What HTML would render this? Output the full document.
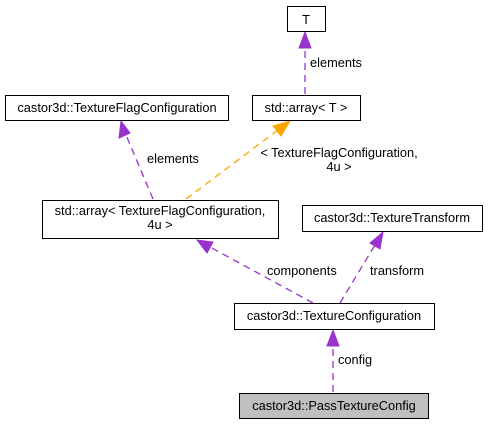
<!DOCTYPE html>
<html><head><meta charset="utf-8"><style>
html,body{margin:0;padding:0;background:#fff;}
svg{display:block;}
text{font-family:"Liberation Sans",Arial,sans-serif;font-size:12.8px;fill:#000;}
</style></head><body>
<svg width="488" height="424" viewBox="0 0 488 424" xmlns="http://www.w3.org/2000/svg">
<g fill="none" stroke-width="1.3" stroke-dasharray="7,5">
<line x1="305" y1="94" x2="305" y2="46" stroke="#9a32cd"/>
<line x1="153" y1="199" x2="126" y2="135" stroke="#9a32cd"/>
<line x1="186" y1="199" x2="278" y2="130" stroke="#ffa500"/>
<line x1="313" y1="303" x2="210" y2="247" stroke="#9a32cd"/>
<line x1="340" y1="303" x2="375" y2="245" stroke="#9a32cd"/>
<line x1="333" y1="392" x2="333" y2="345" stroke="#9a32cd"/>
</g>
<g stroke-width="1">
<polygon points="305,32 299,48 311,48" fill="#9a32cd" stroke="#9a32cd"/>
<polygon points="121,121 119,138 130,133" fill="#9a32cd" stroke="#9a32cd"/>
<polygon points="290,121 273,126 281,136" fill="#ffa500" stroke="#ffa500"/>
<polygon points="197,240 207,253 213,242" fill="#9a32cd" stroke="#9a32cd"/>
<polygon points="383,232 370,243 380,249" fill="#9a32cd" stroke="#9a32cd"/>
<polygon points="333,330 327,346 339,346" fill="#9a32cd" stroke="#9a32cd"/>
</g>
<g stroke="#000" stroke-width="1" fill="#fff">
<rect x="287.5" y="6.5" width="38" height="25"/>
<rect x="5.5" y="95.5" width="223" height="25"/>
<rect x="252.5" y="95.5" width="108" height="25"/>
<rect x="42.5" y="200.5" width="236" height="38"/>
<rect x="302.5" y="205.5" width="180" height="26"/>
<rect x="234.5" y="303.5" width="200" height="26"/>
<rect x="239.5" y="393.5" width="189" height="25" fill="#bfbfbf"/>
</g>
<g text-anchor="middle">
<text x="306" y="24">T</text>
<text x="117" y="112">castor3d::TextureFlagConfiguration</text>
<text x="306" y="112">std::array&lt; T &gt;</text>
<text x="160" y="215">std::array&lt; TextureFlagConfiguration,</text>
<text x="160" y="229">4u &gt;</text>
<text x="392" y="222">castor3d::TextureTransform</text>
<text x="334" y="320">castor3d::TextureConfiguration</text>
<text x="334" y="410">castor3d::PassTextureConfig</text>
<text x="339" y="157">&lt; TextureFlagConfiguration,</text>
<text x="339" y="171">4u &gt;</text>
</g>
<text x="310" y="67">elements</text>
<text x="147" y="163">elements</text>
<text x="267" y="275">components</text>
<text x="370" y="275">transform</text>
<text x="338" y="364">config</text>
</svg>
</body></html>
